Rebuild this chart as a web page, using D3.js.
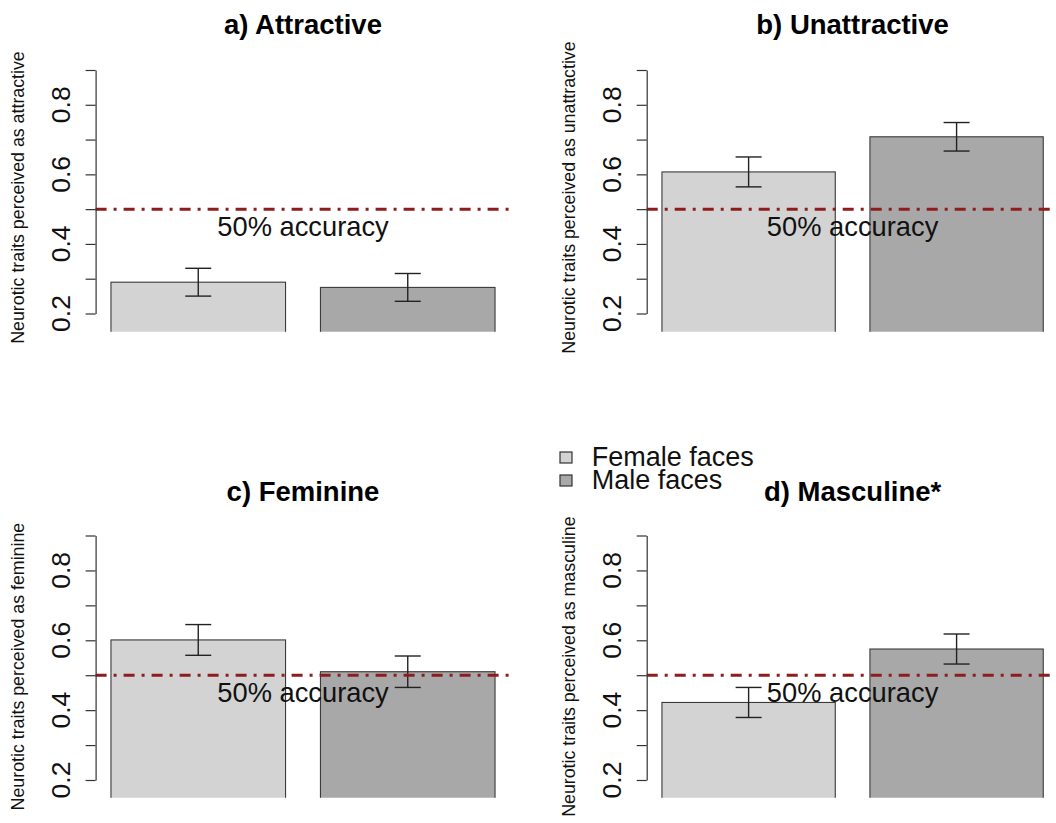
<!DOCTYPE html>
<html>
<head>
<meta charset="utf-8">
<script src="https://cdn.jsdelivr.net/npm/d3@7"></script>
<style>
  html, body { margin: 0; padding: 0; background: #fff; }
  svg { display: block; font-family: "Liberation Sans", Arial, Helvetica, sans-serif; }
</style>
</head>
<body>
<svg id="chart" width="1056" height="823"></svg>
<script>
// ---- data ----
const panelTitles = ["a) Attractive", "b) Unattractive", "c) Feminine", "d) Masculine*"];
const yAxisTitles = [
  "Neurotic traits perceived as attractive",
  "Neurotic traits perceived as unattractive",
  "Neurotic traits perceived as feminine",
  "Neurotic traits perceived as masculine"
];
const groups = ["Female faces", "Male faces"];
const femaleMeans = [0.290, 0.607, 0.601, 0.422];
const maleMeans   = [0.275, 0.708, 0.510, 0.575];
const femaleErr   = [0.040, 0.043, 0.044, 0.043];
const maleErr     = [0.040, 0.041, 0.045, 0.043];
const yTicks = [0.2, 0.3, 0.4, 0.5, 0.6, 0.7, 0.8, 0.9];
const yTickLabels = [0.2, 0.4, 0.6, 0.8];
const chanceLevel = 0.5;
const chanceLabel = "50% accuracy";
const chanceLabelAt = 0.45;

// ---- styles / layout ----
const fills = ["#d3d3d3", "#a8a8a8"];
const svg = d3.select("#chart");

const layouts = [
  { x0: 95.6,  x1: 510.4,  yTop: 70,    yBot: 313.5, clip: 331.7, titleY: 34,    labelMid: 197.5 },
  { x0: 646.7, x1: 1058.5, yTop: 70,    yBot: 313.5, clip: 331.7, titleY: 34,    labelMid: 197.5 },
  { x0: 95.6,  x1: 510.4,  yTop: 535.5, yBot: 780,   clip: 797.7, titleY: 500.5, labelMid: 666.6 },
  { x0: 646.7, x1: 1058.5, yTop: 535.5, yBot: 780,   clip: 797.7, titleY: 500.5, labelMid: 666.6 }
];

// barplot units: width 1, space 0.2
const barLefts = [0.2, 1.4];
const barWidth = 1;

panelTitles.forEach((title, i) => {
  const L = layouts[i];
  const x = d3.scaleLinear().domain([0.112, 2.488]).range([L.x0, L.x1]);
  const y = d3.scaleLinear().domain([0.2, 0.9]).range([L.yBot, L.yTop]);
  const g = svg.append("g");

  const clipId = "clip" + i;
  svg.append("clipPath").attr("id", clipId)
    .append("rect").attr("x", 0).attr("y", 0).attr("width", 1056).attr("height", L.clip);

  const vals = [femaleMeans[i], maleMeans[i]];
  const errs = [femaleErr[i], maleErr[i]];

  // bars (extend below the axis, clipped at figure region)
  g.append("g").attr("clip-path", `url(#${clipId})`)
    .selectAll("rect").data(vals).join("rect")
    .attr("x", (d, j) => x(barLefts[j]))
    .attr("width", (d, j) => x(barLefts[j] + barWidth) - x(barLefts[j]))
    .attr("y", d => y(d))
    .attr("height", d => y(0) - y(d))
    .attr("fill", (d, j) => fills[j])
    .attr("stroke", "#3a3a3a")
    .attr("stroke-width", 1.1);

  // error bars
  const eb = g.append("g").attr("stroke", "#222").attr("stroke-width", 1.4).attr("fill", "none");
  vals.forEach((v, j) => {
    const cx = x(barLefts[j] + barWidth / 2);
    eb.append("line").attr("x1", cx).attr("x2", cx).attr("y1", y(v + errs[j])).attr("y2", y(v - errs[j]));
    eb.append("line").attr("x1", cx - 13).attr("x2", cx + 13).attr("y1", y(v + errs[j])).attr("y2", y(v + errs[j]));
    eb.append("line").attr("x1", cx - 13).attr("x2", cx + 13).attr("y1", y(v - errs[j])).attr("y2", y(v - errs[j]));
  });

  // chance line
  g.append("line")
    .attr("x1", L.x0).attr("x2", L.x1)
    .attr("y1", y(chanceLevel)).attr("y2", y(chanceLevel))
    .attr("stroke", "#8e1c1c").attr("stroke-width", 3)
    .attr("stroke-dasharray", "11 7 3 7");

  g.append("text")
    .attr("x", (L.x0 + L.x1) / 2).attr("y", y(chanceLabelAt))
    .attr("dy", "0.35em")
    .attr("text-anchor", "middle")
    .attr("font-size", 27.3).attr("fill", "#111")
    .text(chanceLabel);

  // y axis
  const axis = d3.axisLeft(y).tickValues(yTicks).tickSize(10).tickSizeOuter(0).tickFormat("");
  const ag = g.append("g").attr("transform", `translate(${L.x0},0)`).call(axis);
  ag.selectAll("path, line").attr("stroke", "#333").attr("stroke-width", 1.2);

  g.selectAll(".ylab").data(yTickLabels).join("text")
    .attr("transform", d => `translate(${L.x0 - 26},${y(d)}) rotate(-90)`)
    .attr("text-anchor", "middle")
    .attr("font-size", 26.5).attr("fill", "#111")
    .text(d => d.toFixed(1));

  // axis title
  g.append("text")
    .attr("transform", `translate(${L.x0 - 71.7},${L.labelMid}) rotate(-90)`)
    .attr("text-anchor", "middle")
    .attr("font-size", 17.8).attr("fill", "#111")
    .text(yAxisTitles[i]);

  // panel title
  g.append("text")
    .attr("x", (L.x0 + L.x1) / 2).attr("y", L.titleY)
    .attr("text-anchor", "middle")
    .attr("font-size", 27.5).attr("font-weight", "bold").attr("fill", "#000")
    .text(title);
});

// legend
const lg = svg.append("g").attr("transform", "translate(560,446)");
groups.forEach((name, j) => {
  lg.append("rect")
    .attr("x", 0).attr("y", 6 + j * 23).attr("width", 12).attr("height", 11)
    .attr("fill", fills[j]).attr("stroke", "#333").attr("stroke-width", 1.2);
  lg.append("text")
    .attr("x", 31.7).attr("y", 20 + j * 23.3)
    .attr("font-size", 27).attr("fill", "#111")
    .text(name);
});
</script>
</body>
</html>
